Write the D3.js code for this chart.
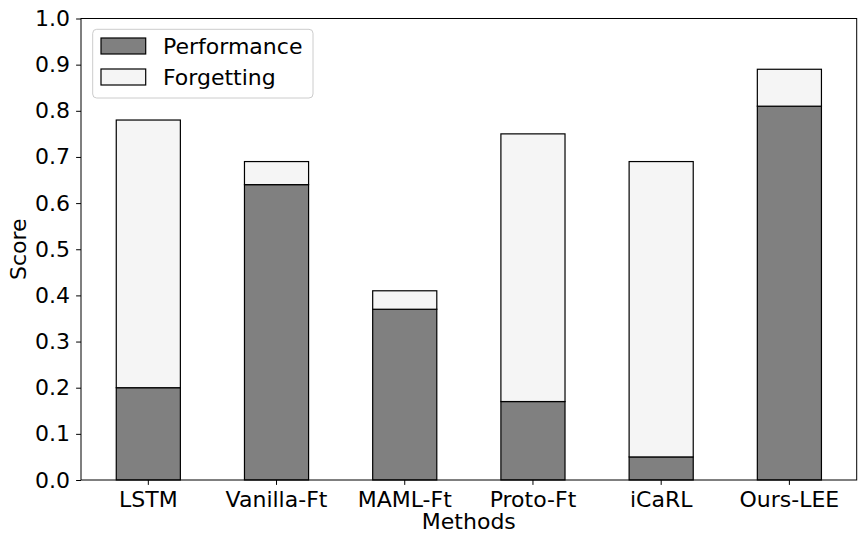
<!DOCTYPE html>
<html lang="en">
<head>
  <meta charset="UTF-8">
  <title>Performance vs Forgetting</title>
  <script src="https://d3js.org/d3.v7.min.js"></script>
  <style>
    body { margin: 0; background: white; }
    svg text { font-family: "DejaVu Sans", sans-serif; fill: #000; }
  </style>
</head>
<body>
  <div id="chart"></div>
  <script>
    const methods = ["LSTM", "Vanilla-Ft", "MAML-Ft", "Proto-Ft", "iCaRL", "Ours-LEE"];
    const performance = [0.20, 0.64, 0.37, 0.17, 0.05, 0.81];
    const forgetting = [0.58, 0.05, 0.04, 0.58, 0.64, 0.08];
    const yTicks = [0.0, 0.1, 0.2, 0.3, 0.4, 0.5, 0.6, 0.7, 0.8, 0.9, 1.0];
    const seriesNames = ["Performance", "Forgetting"];
    const seriesColors = ["#808080", "#f5f5f5"];

    const width = 865;
    const height = 545;
    const margin = { top: 18.5, right: 8.3, bottom: 65, left: 81 };
    const fontSize = 22;

    const svg = d3.select("#chart")
      .append("svg")
      .attr("width", width)
      .attr("height", height);

    const x = d3.scaleBand()
      .domain(methods)
      .range([margin.left, width - margin.right])
      .paddingInner(0.5)
      .paddingOuter(0.275);

    const y = d3.scaleLinear()
      .domain([0, 1])
      .range([height - margin.bottom, margin.top]);

    const rows = methods.map((m, i) => ({ method: m, Performance: performance[i], Forgetting: forgetting[i] }));
    const stacked = d3.stack().keys(seriesNames)(rows);

    svg.append("g")
      .selectAll("g")
      .data(stacked)
      .join("g")
      .attr("fill", (d, i) => seriesColors[i])
      .selectAll("rect")
      .data(d => d)
      .join("rect")
      .attr("x", d => x(d.data.method))
      .attr("width", x.bandwidth())
      .attr("y", d => y(d[1]))
      .attr("height", d => y(d[0]) - y(d[1]))
      .attr("stroke", "#000")
      .attr("stroke-width", 1.2);

    // axes
    const xAxis = svg.append("g")
      .attr("transform", `translate(0,${height - margin.bottom})`)
      .call(d3.axisBottom(x).tickSize(4.9).tickPadding(6));

    const yAxis = svg.append("g")
      .attr("transform", `translate(${margin.left},0)`)
      .call(d3.axisLeft(y).tickValues(yTicks).tickFormat(d3.format(".1f")).tickSize(4.9).tickPadding(6));

    [xAxis, yAxis].forEach(g => {
      g.select(".domain").remove();
      g.selectAll(".tick line").attr("stroke", "#000").attr("stroke-width", 1);
      g.selectAll(".tick text").style("font-size", fontSize + "px");
    });

    // frame
    svg.append("rect")
      .attr("x", margin.left)
      .attr("y", margin.top)
      .attr("width", width - margin.left - margin.right)
      .attr("height", height - margin.top - margin.bottom)
      .attr("fill", "none")
      .attr("stroke", "#000")
      .attr("stroke-width", 1);

    // axis titles
    svg.append("text")
      .attr("x", (margin.left + width - margin.right) / 2)
      .attr("y", 529)
      .attr("text-anchor", "middle")
      .style("font-size", fontSize + "px")
      .text("Methods");

    svg.append("text")
      .attr("transform", `translate(26,${(margin.top + height - margin.bottom) / 2}) rotate(-90)`)
      .attr("text-anchor", "middle")
      .style("font-size", fontSize + "px")
      .text("Score");

    // legend
    const legend = svg.append("g");
    legend.append("rect")
      .attr("x", 92.7)
      .attr("y", 29.3)
      .attr("width", 220.3)
      .attr("height", 68.7)
      .attr("rx", 4)
      .attr("fill", "white")
      .attr("fill-opacity", 0.8)
      .attr("stroke", "#cccccc")
      .attr("stroke-width", 1);

    const item = legend.selectAll("g.item")
      .data(seriesNames)
      .join("g")
      .attr("class", "item")
      .attr("transform", (d, i) => `translate(101,${38 + i * 31})`);

    item.append("rect")
      .attr("width", 44.7)
      .attr("height", 16)
      .attr("fill", (d, i) => seriesColors[i])
      .attr("stroke", "#000")
      .attr("stroke-width", 1.2);

    item.append("text")
      .attr("x", 62)
      .attr("y", 8)
      .attr("dy", "0.35em")
      .style("font-size", fontSize + "px")
      .text(d => d);
  </script>
</body>
</html>
